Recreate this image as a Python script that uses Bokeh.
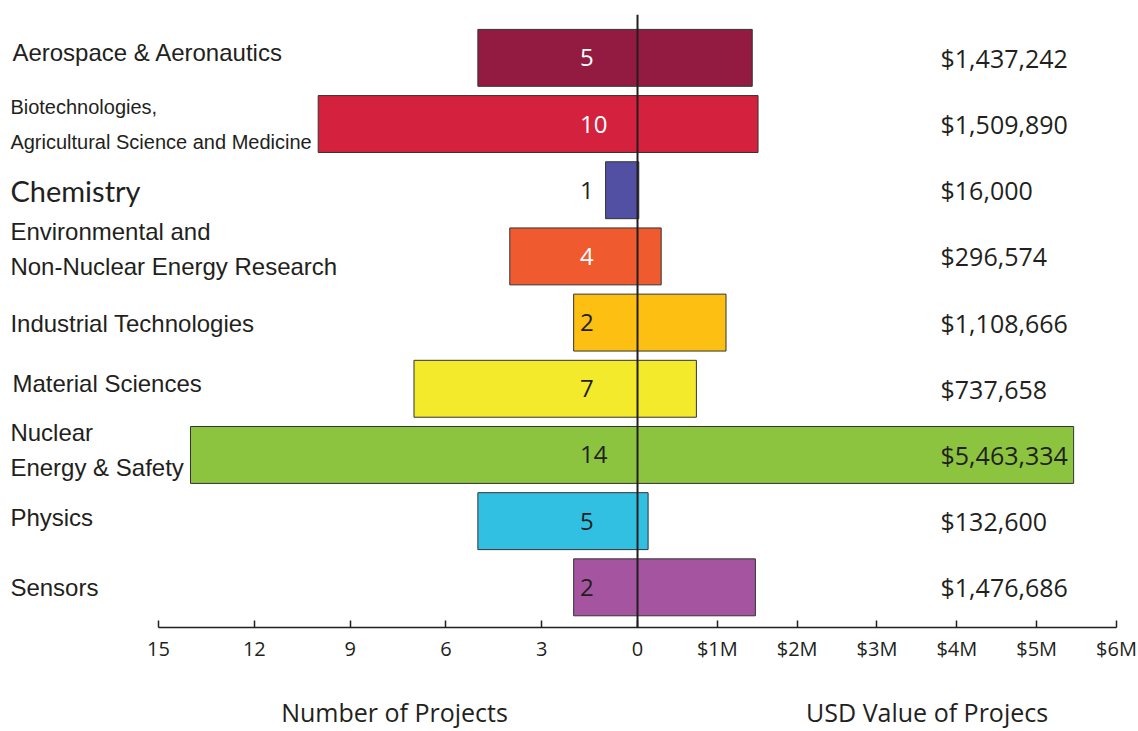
from bokeh.plotting import figure
from bokeh.models import Range1d, LinearAxis, FixedTicker, Span, ColumnDataSource
from bokeh.core.properties import value
from bokeh.embed import file_html
from bokeh.resources import INLINE

# ---------------- data ----------------
categories = [
    "Aerospace & Aeronautics",
    "Biotechnologies,\nAgricultural Science and Medicine",
    "Chemistry",
    "Environmental and\nNon-Nuclear Energy Research",
    "Industrial Technologies",
    "Material Sciences",
    "Nuclear\nEnergy & Safety",
    "Physics",
    "Sensors",
]
projects = [5, 10, 1, 4, 2, 7, 14, 5, 2]
usd_values = [1437242, 1509890, 16000, 296574, 1108666, 737658, 5463334, 132600, 1476686]
count_ticks = [15, 12, 9, 6, 3, 0]
usd_ticks_millions = [1, 2, 3, 4, 5, 6]
usd_tick_labels = ["$1M", "$2M", "$3M", "$4M", "$5M", "$6M"]
left_title = "Number of Projects"
right_title = "USD Value of Projecs"

# ---------------- styles ----------------
colors = ["#931b42", "#d4213d", "#5150a2", "#f05a2f", "#fcbf12",
          "#f3ea2c", "#8cc43f", "#32c0e2", "#a554a0"]
count_text_colors = ["#ffffff", "#ffffff", "#231f20", "#ffffff", "#231f20",
                     "#231f20", "#231f20", "#231f20", "#231f20"]
SANS = "Liberation Sans"
label_fonts = [SANS, SANS, "Lato", SANS, SANS, SANS, SANS, SANS, SANS]
label_sizes = ["24px", "20px", "29px", "24px", "24px", "24px", "24px", "24px", "24px"]
label_line_h = [1.2, 1.59, 1.2, 1.29, 1.2, 1.2, 1.29, 1.2, 1.2]
label_dy = [-5, 0, 0, -7, 1, -5, -5, -4, 0]
label_dx = [2, 0, 0, 0, 0, 2, 0, 0, 0]
DARK = "#231f20"

X_START, X_END = -19.95, 15.69
USD_PER_UNIT = 400000.0
Y_TOP, Y_BOTTOM = -0.655, 8.607
BAR_H = 0.86

idx = list(range(len(categories)))
neg_projects = [-v for v in projects]

p = figure(width=1138, height=731,
           x_range=Range1d(X_START, X_END), y_range=Range1d(Y_BOTTOM, Y_TOP),
           output_backend="svg", toolbar_location=None,
           x_axis_type=None, y_axis_type=None,
           min_border_left=0, min_border_right=0, min_border_top=14, min_border_bottom=102)
p.grid.visible = False
p.outline_line_color = None
p.background_fill_color = "white"
p.extra_x_ranges = {"usd": Range1d(X_START * USD_PER_UNIT, X_END * USD_PER_UNIT)}

src = ColumnDataSource(dict(y=idx, neg=neg_projects, usd=usd_values, color=colors,
                            count=[str(v) for v in projects],
                            usd_txt=["${:,}".format(v) for v in usd_values],
                            ccol=count_text_colors))

p.hbar(y="y", left="neg", right=0, height=BAR_H, fill_color="color",
       line_color="#333333", line_width=1, source=src)
p.hbar(y="y", left=0, right="usd", height=BAR_H, fill_color="color",
       line_color="#333333", line_width=1, source=src, x_range_name="usd")

p.add_layout(Span(location=0, dimension="height", line_color=DARK, line_width=2))

p.text(x=-1.8, y="y", text="count", text_color="ccol", source=src,
       text_font=value("Open Sans"), text_font_size="24px",
       text_align="left", text_baseline="middle")
p.text(x=9.49, y="y", text="usd_txt", text_color=DARK, source=src,
       text_font=value("Open Sans"), text_font_size="25px",
       text_align="left", text_baseline="middle")

for i, cat in enumerate(categories):
    p.text(x=[X_START + 0.31], y=[i], text=[cat], text_color=DARK,
           text_font=value(label_fonts[i]), text_font_size=label_sizes[i],
           text_line_height=label_line_h[i], x_offset=label_dx[i], y_offset=label_dy[i],
           text_align="left", text_baseline="middle")

usd_tick_pos = [m * 1e6 / USD_PER_UNIT for m in usd_ticks_millions]
ticks = [-t for t in count_ticks] + usd_tick_pos
overrides = {float(-t): str(t) for t in count_ticks}
for pos, lab in zip(usd_tick_pos, usd_tick_labels):
    overrides[float(pos)] = lab

ax = LinearAxis(ticker=FixedTicker(ticks=ticks), bounds=(-15, 15),
                major_label_overrides=overrides,
                axis_line_color=DARK, axis_line_width=1.5,
                major_tick_line_color=DARK, major_tick_line_width=1.5,
                major_tick_in=7, major_tick_out=0,
                minor_tick_line_color=None,
                major_label_text_font="Open Sans", major_label_text_font_size="20px",
                major_label_text_color=DARK, major_label_standoff=7)
p.add_layout(ax, "below")

# axis titles, drawn as a tick-less axis beneath the tick axis
title_pos = [-7.61, 9.07]
title_ax = LinearAxis(ticker=FixedTicker(ticks=title_pos),
                      major_label_overrides={title_pos[0]: left_title, title_pos[1]: right_title},
                      axis_line_color=None, major_tick_line_color=None,
                      minor_tick_line_color=None, major_tick_in=0, major_tick_out=0,
                      major_label_text_font="Open Sans", major_label_text_font_size="25px",
                      major_label_text_color=DARK, major_label_standoff=30)
p.add_layout(title_ax, "below")

open("out.html", "w").write(file_html(p, INLINE))
